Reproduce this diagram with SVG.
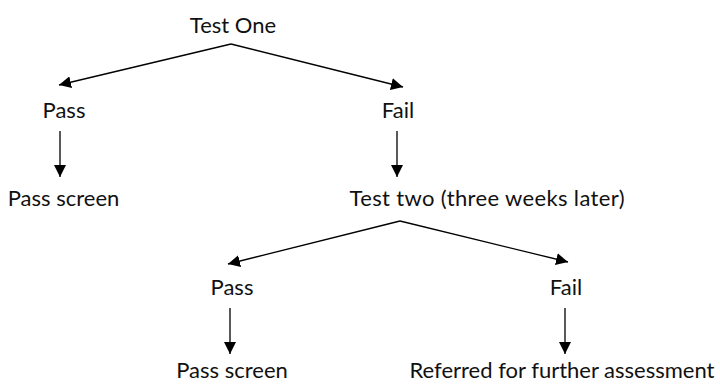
<svg xmlns="http://www.w3.org/2000/svg" width="720" height="385" viewBox="0 0 720 385">
  <defs>
    <marker id="arrow" markerUnits="userSpaceOnUse" markerWidth="12" markerHeight="12" refX="12" refY="6" orient="auto">
      <path d="M0,0 L12,6 L0,12 z" fill="#000"/>
    </marker>
    <style>
      text { font-family: "Lato", "Open Sans", sans-serif; font-size: 22px; fill: #111; text-anchor: middle; }
      .edge { stroke: #000; stroke-width: 1.3; fill: none; marker-end: url(#arrow); }
    </style>
  </defs>
  <rect width="720" height="385" fill="#fff"/>

  <g id="connectors">
    <path class="edge" d="M231,44 L59,85"/>
    <path class="edge" d="M231,44 L403,87"/>
    <path class="edge" d="M60,131 L60,177"/>
    <path class="edge" d="M397,131 L397,177"/>
    <path class="edge" d="M400,221 L228,264"/>
    <path class="edge" d="M400,221 L568,262"/>
    <path class="edge" d="M230,308 L230,354"/>
    <path class="edge" d="M565,308 L565,354"/>
  </g>

  <g id="test-one"><text x="233" y="33">Test One</text></g>
  <g id="pass-1"><text x="64" y="118">Pass</text></g>
  <g id="fail-1"><text x="398" y="118">Fail</text></g>
  <g id="pass-screen-1"><text x="63.5" y="206">Pass screen</text></g>
  <g id="test-two"><text x="487" y="206" textLength="275" lengthAdjust="spacing">Test two (three weeks later)</text></g>
  <g id="pass-2"><text x="232" y="295">Pass</text></g>
  <g id="fail-2"><text x="566" y="295">Fail</text></g>
  <g id="pass-screen-2"><text x="232" y="378">Pass screen</text></g>
  <g id="referred"><text x="562" y="378">Referred for further assessment</text></g>
</svg>
